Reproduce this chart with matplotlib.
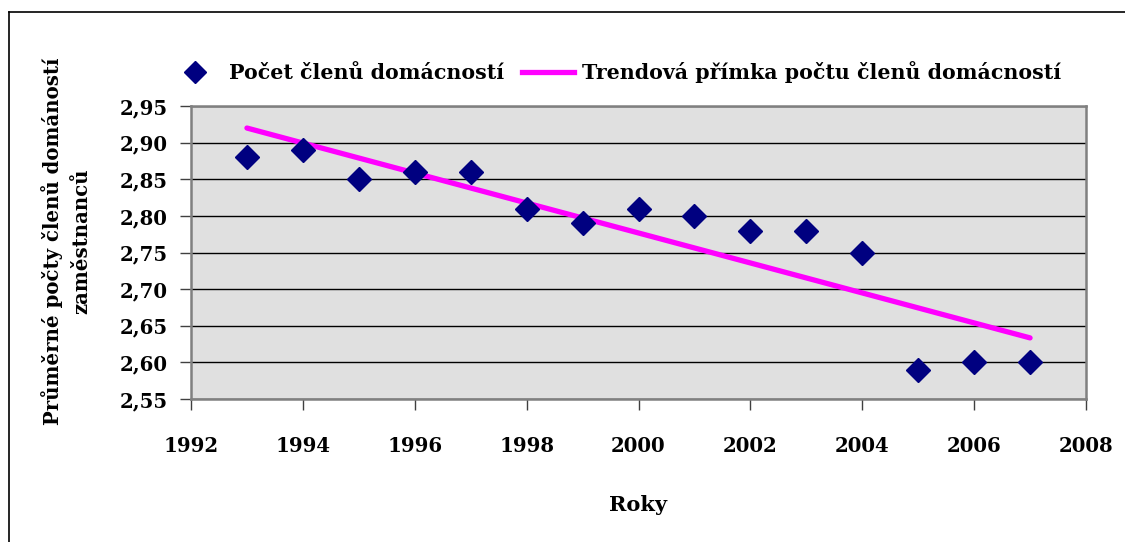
import numpy as np
import matplotlib
matplotlib.use("Agg")
import matplotlib.pyplot as plt
from matplotlib.lines import Line2D

years = [1993, 1994, 1995, 1996, 1997, 1998, 1999, 2000, 2001, 2002, 2003, 2004, 2005, 2006, 2007]
members = [2.88, 2.89, 2.85, 2.86, 2.86, 2.81, 2.79, 2.81, 2.80, 2.78, 2.78, 2.75, 2.59, 2.60, 2.60]
yticks = [2.55, 2.60, 2.65, 2.70, 2.75, 2.80, 2.85, 2.90, 2.95]
xticks = [1992, 1994, 1996, 1998, 2000, 2002, 2004, 2006, 2008]
series_label = "Počet členů domácností"
trend_label = "Trendová přímka počtu členů domácností"
ylabel = "Průměrné počty členů domáností\nzaměstnanců"
xlabel = "Roky"

plt.rcParams['font.family'] = ['DejaVu Serif', 'Liberation Serif']
plt.rcParams['font.weight'] = 'bold'

W, H = 1125, 542
fig = plt.figure(figsize=(W / 100, H / 100), dpi=100)
ax = fig.add_axes([191 / W, 1 - 399 / H, (1086 - 191) / W, (399 - 106) / H])
ax.set_facecolor('#E0E0E0')

# outer chart border (left and top visible)
fig.add_artist(Line2D([9 / W, 9 / W], [0, 1 - 12 / H], transform=fig.transFigure, color='black', lw=1.2))
fig.add_artist(Line2D([9 / W, 1], [1 - 12 / H, 1 - 12 / H], transform=fig.transFigure, color='black', lw=1.2))

# trend line (least squares fit, as the spreadsheet trendline)
coef = np.polyfit(years, members, 1)
tx = np.array([years[0], years[-1]])
ax.plot(tx, np.polyval(coef, tx), color='#FF00FF', lw=3.8, solid_capstyle='round', zorder=3)
ax.plot(years, members, linestyle='none', marker='D', markersize=12.5, color='#000080', zorder=4)

ax.set_xlim(1992, 2008)
ax.set_ylim(2.55, 2.95)
ax.set_xticks(xticks)
ax.set_yticks(yticks)
ax.set_xticklabels([str(x) for x in xticks])
ax.set_yticklabels([f"{v:.2f}".replace('.', ',') for v in yticks])
ax.yaxis.grid(True, color='black', lw=1.0)
ax.set_axisbelow(True)
ax.tick_params(axis='both', labelsize=14.2, length=8, width=1, color='#404040', direction='out')
ax.tick_params(axis='x', pad=19)
ax.tick_params(axis='y', pad=9)
for lab in ax.get_xticklabels() + ax.get_yticklabels():
    lab.set_fontweight('bold')
for s in ax.spines.values():
    s.set_color('#808080')
    s.set_linewidth(1.8)

fig.text(638 / W, 1 - 505 / H, xlabel, ha='center', va='center', fontsize=15, fontweight='bold')
fig.text(66 / W, 1 - 241 / H, ylabel, ha='center', va='center', rotation=90, fontsize=14.2,
         fontweight='bold', linespacing=1.5, multialignment='center')

handles = [Line2D([], [], linestyle='none', marker='D', markersize=11, color='#000080'),
           Line2D([], [], color='#FF00FF', lw=3.8)]
fig.legend(handles, [series_label, trend_label], loc='center', bbox_to_anchor=(615 / W, 1 - 72 / H),
           ncol=2, frameon=False, prop={'weight': 'bold', 'size': 14.8},
           handlelength=2.5, columnspacing=0.9, handletextpad=0.4)

fig.savefig('out.png', dpi=100)
